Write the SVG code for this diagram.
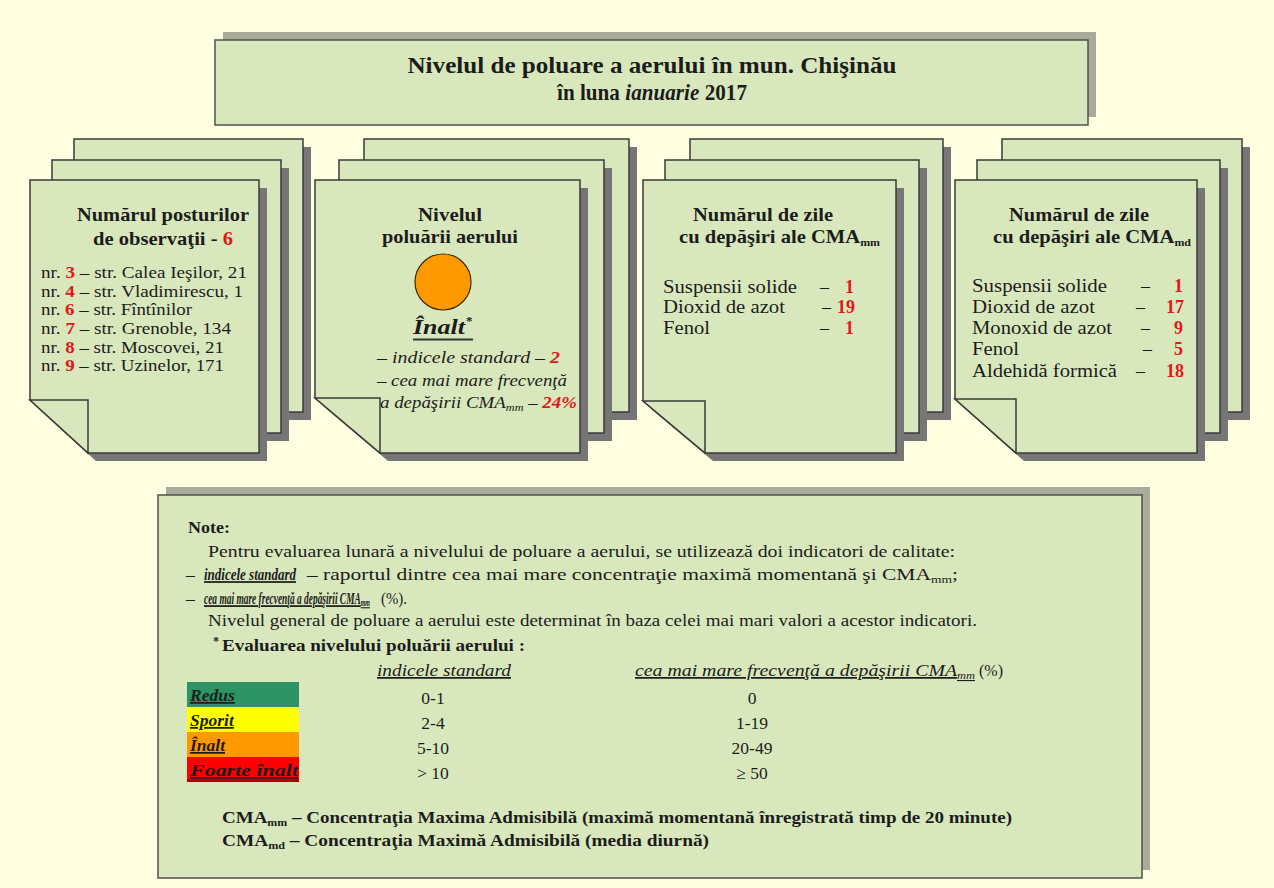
<svg xmlns="http://www.w3.org/2000/svg" width="1274" height="888" viewBox="0 0 1274 888">
<style>
.page{fill:#D9E8BC;stroke:#3a3a3a;stroke-width:1.5}
.shadow{fill:#767676}
.boxsh{fill:#ABAB9B}
.box{fill:#D9E8BC;stroke:#505050;stroke-width:1.5}
text{font-family:"Liberation Serif","Times New Roman",serif;fill:#1c1c1c}
.b{font-weight:bold}
.i{font-style:italic}
.u{text-decoration:underline}
.red{fill:#E3161B;font-weight:bold}
.h{font-size:19px;font-weight:bold}
.l{font-size:17.5px}
.m{font-size:18px}
.n{font-size:17.5px}
.sub{font-size:11px}
</style>
<rect width="1274" height="888" fill="#FEFEE0"/>

<g id="title">
<rect class="boxsh" x="223" y="32" width="873" height="85"/>
<rect class="box" x="215" y="40" width="873" height="85"/>
<text class="b" x="652" y="73" font-size="23" text-anchor="middle" textLength="489" lengthAdjust="spacingAndGlyphs">Nivelul de poluare a aerului în mun. Chişinău</text>
<text class="b" x="652" y="100" font-size="23" text-anchor="middle" textLength="190" lengthAdjust="spacingAndGlyphs">în luna <tspan class="i">ianuarie</tspan> 2017</text>
</g>

<g id="card-posturi">
<path class="shadow" d="M82,147 H311 V420 H140 L82,367 Z"/>
<path class="page" d="M74,139 H303 V412 H132 L74,359 Z"/>
<path class="shadow" d="M60,168 H289 V441 H118 L60,388 Z"/>
<path class="page" d="M52,160 H281 V433 H110 L52,380 Z"/>
<path class="shadow" d="M38,188 H267 V461 H96 L38,408 Z"/>
<path class="page" d="M30,180 H259 V453 H88 L30,400 Z"/>
<path class="page" d="M30,400 H88 V453 Z"/>
<text class="h" x="163" y="221" text-anchor="middle" textLength="172" lengthAdjust="spacingAndGlyphs">Numărul posturilor</text>
<text class="h" x="163" y="245" text-anchor="middle" textLength="140" lengthAdjust="spacingAndGlyphs">de observaţii - <tspan class="red">6</tspan></text>
<text class="l" x="41" y="278" textLength="206" lengthAdjust="spacingAndGlyphs">nr. <tspan class="red">3</tspan> – str. Calea Ieşilor, 21</text>
<text class="l" x="41" y="297" textLength="202" lengthAdjust="spacingAndGlyphs">nr. <tspan class="red">4</tspan> – str. Vladimirescu, 1</text>
<text class="l" x="41" y="315" textLength="151" lengthAdjust="spacingAndGlyphs">nr. <tspan class="red">6</tspan> – str. Fîntînilor</text>
<text class="l" x="41" y="334" textLength="190" lengthAdjust="spacingAndGlyphs">nr. <tspan class="red">7</tspan> – str. Grenoble, 134</text>
<text class="l" x="41" y="353" textLength="183" lengthAdjust="spacingAndGlyphs">nr. <tspan class="red">8</tspan> – str. Moscovei, 21</text>
<text class="l" x="41" y="371" textLength="183" lengthAdjust="spacingAndGlyphs">nr. <tspan class="red">9</tspan> – str. Uzinelor, 171</text>
</g>

<g id="card-nivel">
<path class="shadow" d="M372,147 H637 V420 H437 L372,365 Z"/>
<path class="page" d="M364,139 H629 V412 H429 L364,357 Z"/>
<path class="shadow" d="M347,168 H612 V441 H412 L347,386 Z"/>
<path class="page" d="M339,160 H604 V433 H404 L339,378 Z"/>
<path class="shadow" d="M323,188 H588 V461 H388 L323,406 Z"/>
<path class="page" d="M315,180 H580 V453 H380 L315,398 Z"/>
<path class="page" d="M315,398 H380 V453 Z"/>
<text class="h" x="450" y="221" text-anchor="middle" textLength="64" lengthAdjust="spacingAndGlyphs">Nivelul</text>
<text class="h" x="450" y="243" text-anchor="middle" textLength="136" lengthAdjust="spacingAndGlyphs">poluării aerului</text>
<circle cx="443" cy="282" r="28" fill="#FF9900" stroke="#3a2a00" stroke-width="1.2"/>
<text class="b i" x="413" y="334" font-size="22" textLength="52" lengthAdjust="spacingAndGlyphs" fill="#333">Înalt</text>
<text class="b" x="466" y="325" font-size="13" fill="#333">*</text>
<line x1="413" y1="339.5" x2="473" y2="339.5" stroke="#333" stroke-width="2"/>
<text class="i" x="377" y="363" font-size="17" fill="#2a2a2a" textLength="183" lengthAdjust="spacingAndGlyphs">– indicele standard – <tspan class="red">2</tspan></text>
<text class="i" x="377" y="386" font-size="17" fill="#2a2a2a" textLength="190" lengthAdjust="spacingAndGlyphs">– cea mai mare frecvenţă</text>
<text class="i" x="380" y="408" font-size="17" fill="#444" textLength="197" lengthAdjust="spacingAndGlyphs">a depăşirii CMA<tspan class="sub" dy="3">mm</tspan><tspan dy="-3"> – </tspan><tspan class="red">24%</tspan></text>
</g>

<g id="card-cma-mm">
<path class="shadow" d="M698,147 H951 V420 H760 L698,368 Z"/>
<path class="page" d="M690,139 H943 V412 H752 L690,360 Z"/>
<path class="shadow" d="M673,168 H927 V441 H735 L673,389 Z"/>
<path class="page" d="M665,160 H919 V433 H727 L665,381 Z"/>
<path class="shadow" d="M651,188 H904 V461 H713 L651,409 Z"/>
<path class="page" d="M643,180 H896 V453 H705 L643,401 Z"/>
<path class="page" d="M643,401 H705 V453 Z"/>
<text class="h" x="693" y="221" textLength="140" lengthAdjust="spacingAndGlyphs">Numărul de zile</text>
<text class="h" x="679" y="243" textLength="201" lengthAdjust="spacingAndGlyphs">cu depăşiri ale CMA<tspan class="sub" dy="3">mm</tspan></text>
<text class="m" x="663" y="293" textLength="134" lengthAdjust="spacingAndGlyphs">Suspensii solide</text>
<text class="m" x="820" y="293">–</text>
<text class="m red" x="854" y="293" text-anchor="end">1</text>
<text class="m" x="663" y="313" textLength="122" lengthAdjust="spacingAndGlyphs">Dioxid de azot</text>
<text class="m" x="822" y="313">–</text>
<text class="m red" x="855" y="313" text-anchor="end">19</text>
<text class="m" x="663" y="334" textLength="47" lengthAdjust="spacingAndGlyphs">Fenol</text>
<text class="m" x="820" y="334">–</text>
<text class="m red" x="854" y="334" text-anchor="end">1</text>
</g>

<g id="card-cma-md">
<path class="shadow" d="M1010,147 H1250 V420 H1071 L1010,366 Z"/>
<path class="page" d="M1002,139 H1242 V412 H1063 L1002,358 Z"/>
<path class="shadow" d="M985,168 H1228 V441 H1046 L985,387 Z"/>
<path class="page" d="M977,160 H1220 V433 H1038 L977,379 Z"/>
<path class="shadow" d="M963,188 H1205 V461 H1024 L963,407 Z"/>
<path class="page" d="M955,180 H1197 V453 H1016 L955,399 Z"/>
<path class="page" d="M955,399 H1016 V453 Z"/>
<text class="h" x="1009" y="221" textLength="140" lengthAdjust="spacingAndGlyphs">Numărul de zile</text>
<text class="h" x="993" y="243" textLength="198" lengthAdjust="spacingAndGlyphs">cu depăşiri ale CMA<tspan class="sub" dy="3">md</tspan></text>
<text class="m" x="972" y="292" textLength="135" lengthAdjust="spacingAndGlyphs">Suspensii solide</text>
<text class="m" x="1141" y="292">–</text>
<text class="m red" x="1183" y="292" text-anchor="end">1</text>
<text class="m" x="972" y="313" textLength="123" lengthAdjust="spacingAndGlyphs">Dioxid de azot</text>
<text class="m" x="1136" y="313">–</text>
<text class="m red" x="1184" y="313" text-anchor="end">17</text>
<text class="m" x="972" y="334" textLength="140" lengthAdjust="spacingAndGlyphs">Monoxid de azot</text>
<text class="m" x="1141" y="334">–</text>
<text class="m red" x="1183" y="334" text-anchor="end">9</text>
<text class="m" x="972" y="355" textLength="47" lengthAdjust="spacingAndGlyphs">Fenol</text>
<text class="m" x="1143" y="355">–</text>
<text class="m red" x="1183" y="355" text-anchor="end">5</text>
<text class="m" x="972" y="377" textLength="145" lengthAdjust="spacingAndGlyphs">Aldehidă formică</text>
<text class="m" x="1136" y="377">–</text>
<text class="m red" x="1184" y="377" text-anchor="end">18</text>
</g>

<g id="notes">
<rect class="boxsh" x="166" y="487" width="984" height="383"/>
<rect class="box" x="158" y="495" width="984" height="383"/>
<text class="n b" x="188" y="533" textLength="42" lengthAdjust="spacingAndGlyphs">Note:</text>
<text class="n" x="208" y="557" textLength="747" lengthAdjust="spacingAndGlyphs">Pentru evaluarea lunară a nivelului de poluare a aerului, se utilizează doi indicatori de calitate:</text>
<text class="n" x="186" y="580">–</text>
<text class="n b i u" transform="translate(204,580) scale(0.75,1)" textLength="122.7" lengthAdjust="spacingAndGlyphs">indicele standard</text>
<text class="n" x="307" y="580" textLength="651" lengthAdjust="spacingAndGlyphs">– raportul dintre cea mai mare concentraţie maximă momentană şi CMA<tspan class="sub" dy="3">mm</tspan><tspan dy="-3">;</tspan></text>
<text class="n" x="186" y="604">–</text>
<text class="n b i u" transform="translate(204,604) scale(0.62,1)" font-size="15" textLength="267.7" lengthAdjust="spacingAndGlyphs">cea mai mare frecvenţă a depăşirii CMA<tspan class="sub" dy="2">mm</tspan></text>
<text class="n" x="381" y="604" textLength="26" lengthAdjust="spacingAndGlyphs">(%).</text>
<text class="n" x="208" y="626" textLength="769" lengthAdjust="spacingAndGlyphs">Nivelul general de poluare a aerului este determinat în baza celei mai mari valori a acestor indicatori.</text>
<text class="b" x="213" y="645" font-size="12">*</text>
<text class="n b" x="222" y="651" textLength="303" lengthAdjust="spacingAndGlyphs">Evaluarea nivelului poluării aerului :</text>
<text class="n i u" x="377" y="676" textLength="134" lengthAdjust="spacingAndGlyphs">indicele standard</text>
<text class="n i u" x="635" y="676" textLength="340" lengthAdjust="spacingAndGlyphs">cea mai mare frecvenţă a depăşirii CMA<tspan class="sub" dy="3">mm</tspan></text>
<text class="n" x="979" y="676" textLength="24" lengthAdjust="spacingAndGlyphs">(%)</text>
<rect x="187" y="682" width="112" height="25" fill="#2E9466"/>
<rect x="187" y="707" width="112" height="25" fill="#FFFF00"/>
<rect x="187" y="732" width="112" height="25" fill="#FF9900"/>
<rect x="187" y="757" width="112" height="25" fill="#FF0000"/>
<rect x="187" y="779" width="112" height="3" fill="#B00000"/>
<text class="n b i u" x="190" y="701" fill="#0f2a1c">Redus</text>
<text class="n b i u" x="190" y="726" fill="#2a2a00">Sporit</text>
<text class="n b i u" x="190" y="751" fill="#2a1a00">Înalt</text>
<text class="n b i u" x="190" y="776" fill="#3a0000" textLength="108" lengthAdjust="spacingAndGlyphs">Foarte înalt</text>
<text class="n" x="433" y="704" text-anchor="middle">0-1</text>
<text class="n" x="433" y="729" text-anchor="middle">2-4</text>
<text class="n" x="433" y="754" text-anchor="middle">5-10</text>
<text class="n" x="433" y="779" text-anchor="middle">&gt; 10</text>
<text class="n" x="752" y="704" text-anchor="middle">0</text>
<text class="n" x="752" y="729" text-anchor="middle">1-19</text>
<text class="n" x="752" y="754" text-anchor="middle">20-49</text>
<text class="n" x="752" y="779" text-anchor="middle">≥ 50</text>
<text class="n b" x="222" y="823" textLength="790" lengthAdjust="spacingAndGlyphs">CMA<tspan class="sub" dy="3">mm</tspan><tspan dy="-3"> – Concentraţia Maxima Admisibilă (maximă momentană înregistrată timp de 20 minute)</tspan></text>
<text class="n b" x="222" y="846" textLength="487" lengthAdjust="spacingAndGlyphs">CMA<tspan class="sub" dy="3">md</tspan><tspan dy="-3"> – Concentraţia Maximă Admisibilă (media diurnă)</tspan></text>
</g>
</svg>
